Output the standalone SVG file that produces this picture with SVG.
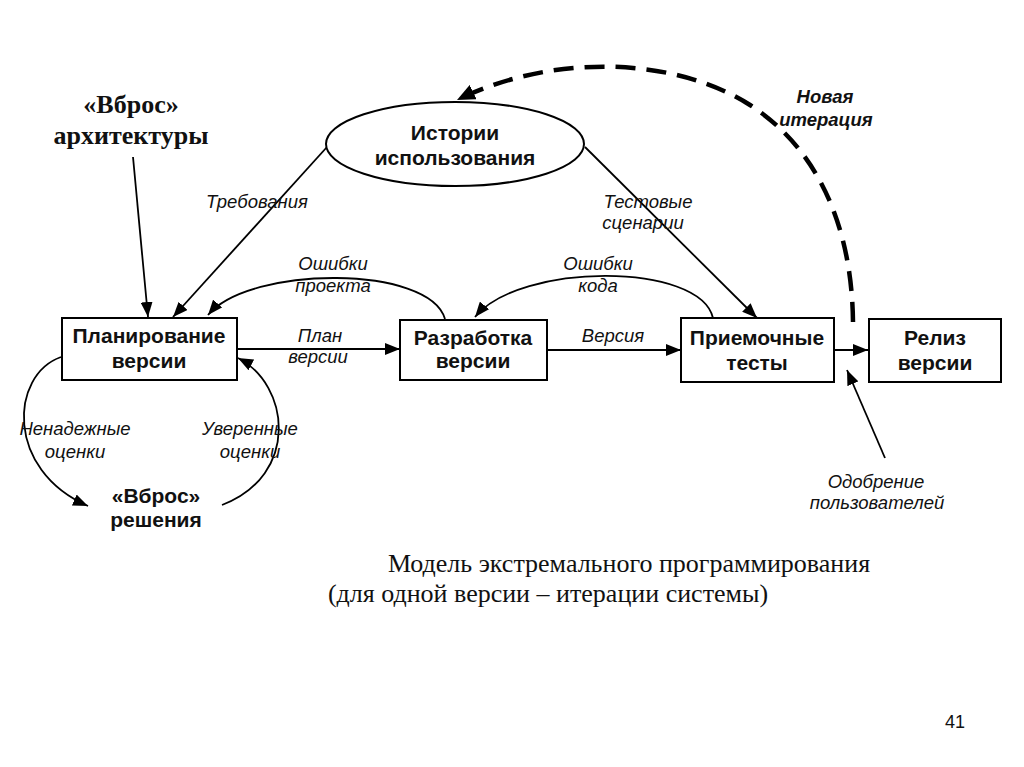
<svg xmlns="http://www.w3.org/2000/svg" width="1024" height="767" viewBox="0 0 1024 767">
<style>
.box{fill:#fff;stroke:#000;stroke-width:2}
.bt{font-family:"Liberation Sans",Arial,sans-serif;font-weight:bold;font-size:21px;text-anchor:middle;fill:#111}
.lb{font-family:"Liberation Sans",Arial,sans-serif;font-style:italic;font-size:18.5px;text-anchor:middle;fill:#111}
.ser{font-family:"Liberation Serif","Times New Roman",serif;text-anchor:middle;fill:#111}
.ln{fill:none;stroke:#000;stroke-width:1.8}
</style>
<defs>
<marker id="ah" markerUnits="userSpaceOnUse" markerWidth="16" markerHeight="12" refX="15" refY="6" orient="auto">
<path d="M0,0 L15,6 L0,12 z" fill="#000"/>
</marker>
<marker id="ahb" markerUnits="userSpaceOnUse" markerWidth="20" markerHeight="16" refX="18" refY="8" orient="auto">
<path d="M0,0 L18,8 L0,16 z" fill="#000"/>
</marker>
</defs>
<rect width="1024" height="767" fill="#fff"/>

<g id="connectors">
<path class="ln" d="M133,157 L148,317" marker-end="url(#ah)"/>
<path class="ln" d="M327,147 L173,317" marker-end="url(#ah)"/>
<path class="ln" d="M585,147 L757,318" marker-end="url(#ah)"/>
<path class="ln" d="M445,319 C430,265 250,265 208,315" marker-end="url(#ah)"/>
<path class="ln" d="M713,318 C700,262 520,262 475,317" marker-end="url(#ah)"/>
<path class="ln" d="M237,349 L400,349" marker-end="url(#ah)"/>
<path class="ln" d="M547,350 L681,350" marker-end="url(#ah)"/>
<path class="ln" d="M834,350 L868,350" marker-end="url(#ah)"/>
<path class="ln" d="M885,458 L847,370" marker-end="url(#ah)"/>
<path class="ln" d="M61,357 C10,375 5,470 88,506" marker-end="url(#ah)"/>
<path class="ln" d="M222,505 C300,475 290,385 238,358" marker-end="url(#ah)"/>
<path d="M853,322 C852,230 820,150 750,105 C680,60 560,50 457,100" fill="none" stroke="#000" stroke-width="4.5" stroke-dasharray="20 11" marker-end="url(#ahb)"/>
</g>

<g id="arch">
<text class="ser" x="131" y="113" font-size="26" font-weight="bold">«Вброс»</text>
<text class="ser" x="131" y="144" font-size="26" font-weight="bold">архитектуры</text>
</g>

<g id="stories">
<ellipse cx="455" cy="144" rx="129" ry="42" fill="#fff" stroke="#000" stroke-width="2"/>
<text class="bt" x="455" y="140">Истории</text>
<text class="bt" x="455" y="165">использования</text>
</g>

<g id="plan">
<rect class="box" x="62" y="318" width="175" height="62"/>
<text class="bt" x="149" y="343">Планирование</text>
<text class="bt" x="149" y="368">версии</text>
</g>

<g id="dev">
<rect class="box" x="400" y="320" width="147" height="60"/>
<text class="bt" x="473" y="345">Разработка</text>
<text class="bt" x="473" y="368">версии</text>
</g>

<g id="tests">
<rect class="box" x="681" y="318" width="153" height="64"/>
<text class="bt" x="757" y="345">Приемочные</text>
<text class="bt" x="757" y="370">тесты</text>
</g>

<g id="release">
<rect class="box" x="869" y="319" width="132" height="63"/>
<text class="bt" x="935" y="345">Релиз</text>
<text class="bt" x="935" y="370">версии</text>
</g>

<g id="spike">
<text class="bt" x="156" y="503">«Вброс»</text>
<text class="bt" x="156" y="527">решения</text>
</g>

<g id="labels">
<text class="lb" x="257" y="208">Требования</text>
<text class="lb" x="333" y="270">Ошибки</text>
<text class="lb" x="333" y="292">проекта</text>
<text class="lb" x="320" y="342">План</text>
<text class="lb" x="318" y="363">версии</text>
<text class="lb" x="598" y="270">Ошибки</text>
<text class="lb" x="598" y="292">кода</text>
<text class="lb" x="613" y="342">Версия</text>
<text class="lb" x="648" y="208">Тестовые</text>
<text class="lb" x="643" y="229">сценарии</text>
<text class="lb" x="825" y="103" font-weight="bold" font-size="19.5">Новая</text>
<text class="lb" x="826" y="126" font-weight="bold" font-size="19.5">итерация</text>
<text class="lb" x="75" y="435">Ненадежные</text>
<text class="lb" x="75" y="458">оценки</text>
<text class="lb" x="250" y="435">Уверенные</text>
<text class="lb" x="250" y="458">оценки</text>
<text class="lb" x="876" y="488">Одобрение</text>
<text class="lb" x="877" y="509">пользователей</text>
</g>

<g id="caption">
<text class="ser" x="629" y="572" font-size="26">Модель экстремального программирования</text>
<text class="ser" x="548" y="602" font-size="26">(для одной версии – итерации системы)</text>
</g>
<text x="955" y="728" font-family="Liberation Sans,Arial,sans-serif" font-size="18" text-anchor="middle" fill="#111">41</text>
</svg>
